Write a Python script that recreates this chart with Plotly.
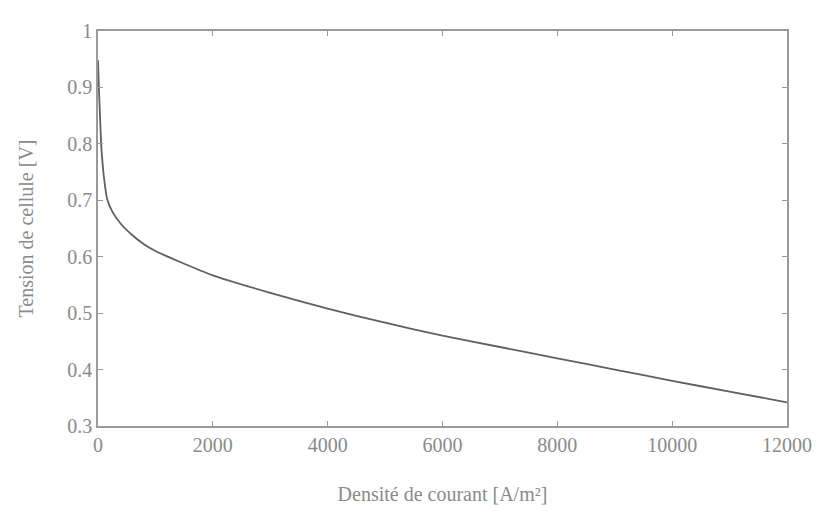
import plotly.graph_objects as go

current_density = [0, 15, 35, 55, 80, 110, 160, 250, 400, 600, 800, 1000, 1400,
                   2000, 3000, 4000, 5000, 6000, 7000, 8000,
                   9000, 10000, 11000, 12000]
cell_voltage = [0.948, 0.90, 0.85, 0.80, 0.765, 0.735, 0.702, 0.680, 0.658, 0.638,
                0.622, 0.610, 0.592, 0.567, 0.536, 0.508, 0.483,
                0.460, 0.440, 0.420, 0.400, 0.380, 0.361, 0.342]

x_ticks = [0, 2000, 4000, 6000, 8000, 10000, 12000]
x_tick_text = ["0", "2000", "4000", "6000", "8000", "10000", "12000"]
y_ticks = [0.3, 0.4, 0.5, 0.6, 0.7, 0.8, 0.9, 1.0]
y_tick_text = ["0.3", "0.4", "0.5", "0.6", "0.7", "0.8", "0.9", "1"]

fig = go.Figure()
fig.add_trace(go.Scatter(x=current_density, y=cell_voltage, mode="lines",
                         line=dict(color="#606060", width=1.8, shape="spline", smoothing=0.6),
                         showlegend=False))

font = dict(family="Liberation Serif, Times New Roman, serif", size=20, color="#8a8a8a")
axis_common = dict(showgrid=False, zeroline=False, showline=True, linecolor="#9a9a9a",
                   linewidth=1.5, mirror="ticks", ticks="inside", ticklen=5,
                   tickcolor="#9a9a9a", tickfont=font)

fig.update_layout(
    width=827, height=513,
    margin=dict(l=90, r=48, t=12, b=95),
    paper_bgcolor="white", plot_bgcolor="white",
    font=font,
    xaxis=dict(range=[0, 12000], tickvals=x_ticks, ticktext=x_tick_text,
               title=dict(text="Densité de courant [A/m²]", font=font, standoff=32),
               **axis_common),
    yaxis=dict(range=[0.3, 1.0], tickvals=y_ticks, ticktext=y_tick_text,
               title=dict(text="Tension de cellule [V]", font=font, standoff=28),
               **axis_common),
)

fig.write_html("out.html")
